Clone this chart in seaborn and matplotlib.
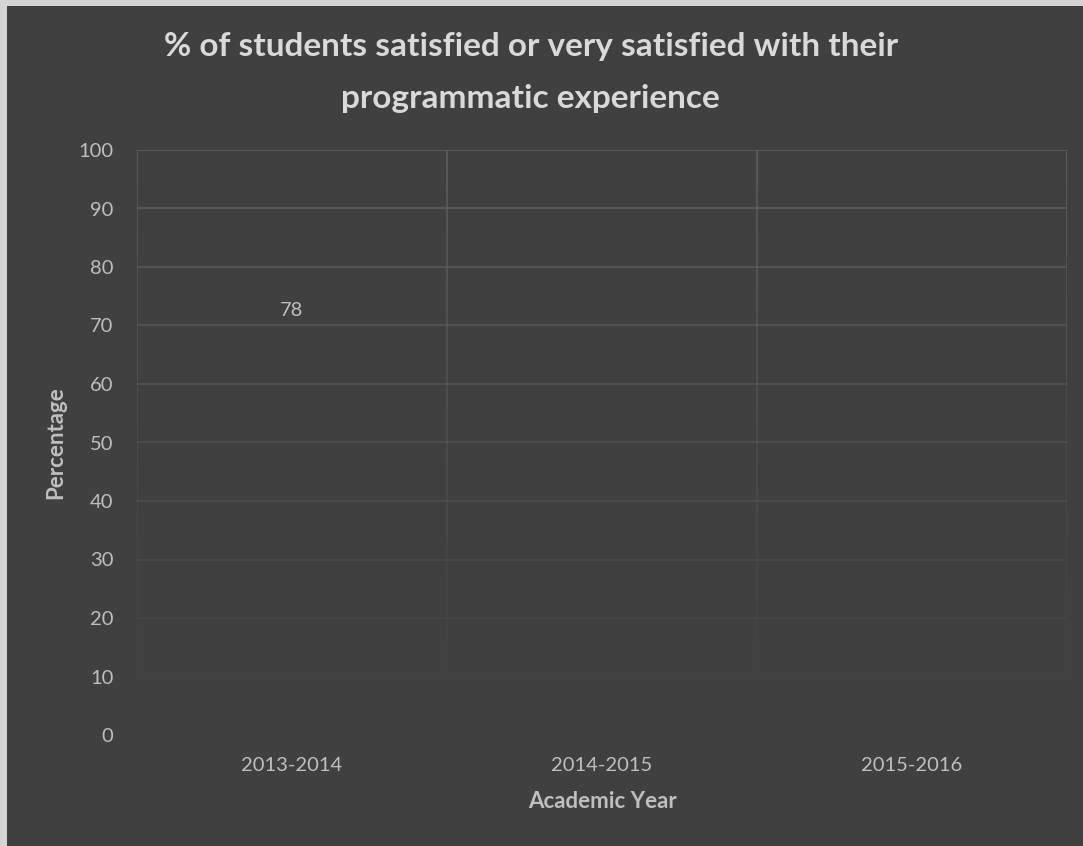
import numpy as np
import pandas as pd
import seaborn as sns
import matplotlib.pyplot as plt
from matplotlib.patches import Rectangle

# chart data
years = ["2013-2014", "2014-2015", "2015-2016"]
satisfied_pct = [78, np.nan, np.nan]
y_ticks = [0, 10, 20, 30, 40, 50, 60, 70, 80, 90, 100]

BG = "#404040"
TEXT = "#bfbfbf"
TITLE = "#d9d9d9"

sns.set_style("dark")
plt.rcParams["font.family"] = ["Lato", "DejaVu Sans"]

df = pd.DataFrame({"year": years, "pct": satisfied_pct})

fig = plt.figure(figsize=(10.83, 8.46), dpi=100)
fig.patch.set_facecolor("#d4d4d4")
# dark chart area with thin light frame on left/top
fig.patches.append(Rectangle((7 / 1083, 0), 1, 1 - 6 / 846, transform=fig.transFigure,
                             facecolor=BG, edgecolor="none", zorder=-10))

ax = fig.add_axes([137 / 1083, 1 - 735 / 846, 930 / 1083, 585 / 846])
ax.set_facecolor(BG)

# bar is drawn in the background colour, so only its label shows
sns.barplot(data=df, x="year", y="pct", color=BG, ax=ax, width=0.6, zorder=1,
            linewidth=0, edgecolor=BG)

ax.set_xlim(-0.5, len(years) - 0.5)
ax.set_ylim(0, 100)
ax.set_yticks(y_ticks)
ax.grid(False)

# fading gridlines (bright at top, vanishing near the bottom)
def fade(v):
    return float(np.clip((v - 8) / 92, 0, 1))

for t in y_ticks[1:]:
    a = fade(t)
    if a > 0:
        ax.axhline(t, color="#5e5e5e", lw=1.2, alpha=0.1 + 0.9 * a, zorder=2)

steps = np.linspace(0, 100, 51)
for xb in np.arange(-0.5, len(years), 1.0):
    for lo, hi in zip(steps[:-1], steps[1:]):
        a = fade(lo)
        if a > 0.02:
            ax.plot([xb, xb], [lo, hi], color="#5e5e5e", lw=1.2, alpha=a, zorder=2,
                    solid_capstyle="butt")

for i, v in enumerate(satisfied_pct):
    if not np.isnan(v):
        ax.annotate(f"{v:.0f}", (i, v), xytext=(0, -17), textcoords="offset points",
                    ha="center", va="top", color=TEXT, fontsize=14.5)

for s in ax.spines.values():
    s.set_visible(False)

ax.tick_params(axis="both", length=0, colors=TEXT, labelsize=14.5)
ax.tick_params(axis="y", pad=17)
ax.tick_params(axis="x", pad=16)

ax.set_xlabel("Academic Year", color=TEXT, fontsize=16, fontweight="bold", labelpad=12)
ax.set_ylabel("Percentage", color=TEXT, fontsize=16, fontweight="bold", labelpad=9)

fig.text(0.49, 0.914, "% of students satisfied or very satisfied with their\nprogrammatic experience",
         ha="center", va="center", color=TITLE, fontsize=24, fontweight="bold", linespacing=1.95)

fig.savefig("out.png", dpi=100, facecolor=fig.get_facecolor())
